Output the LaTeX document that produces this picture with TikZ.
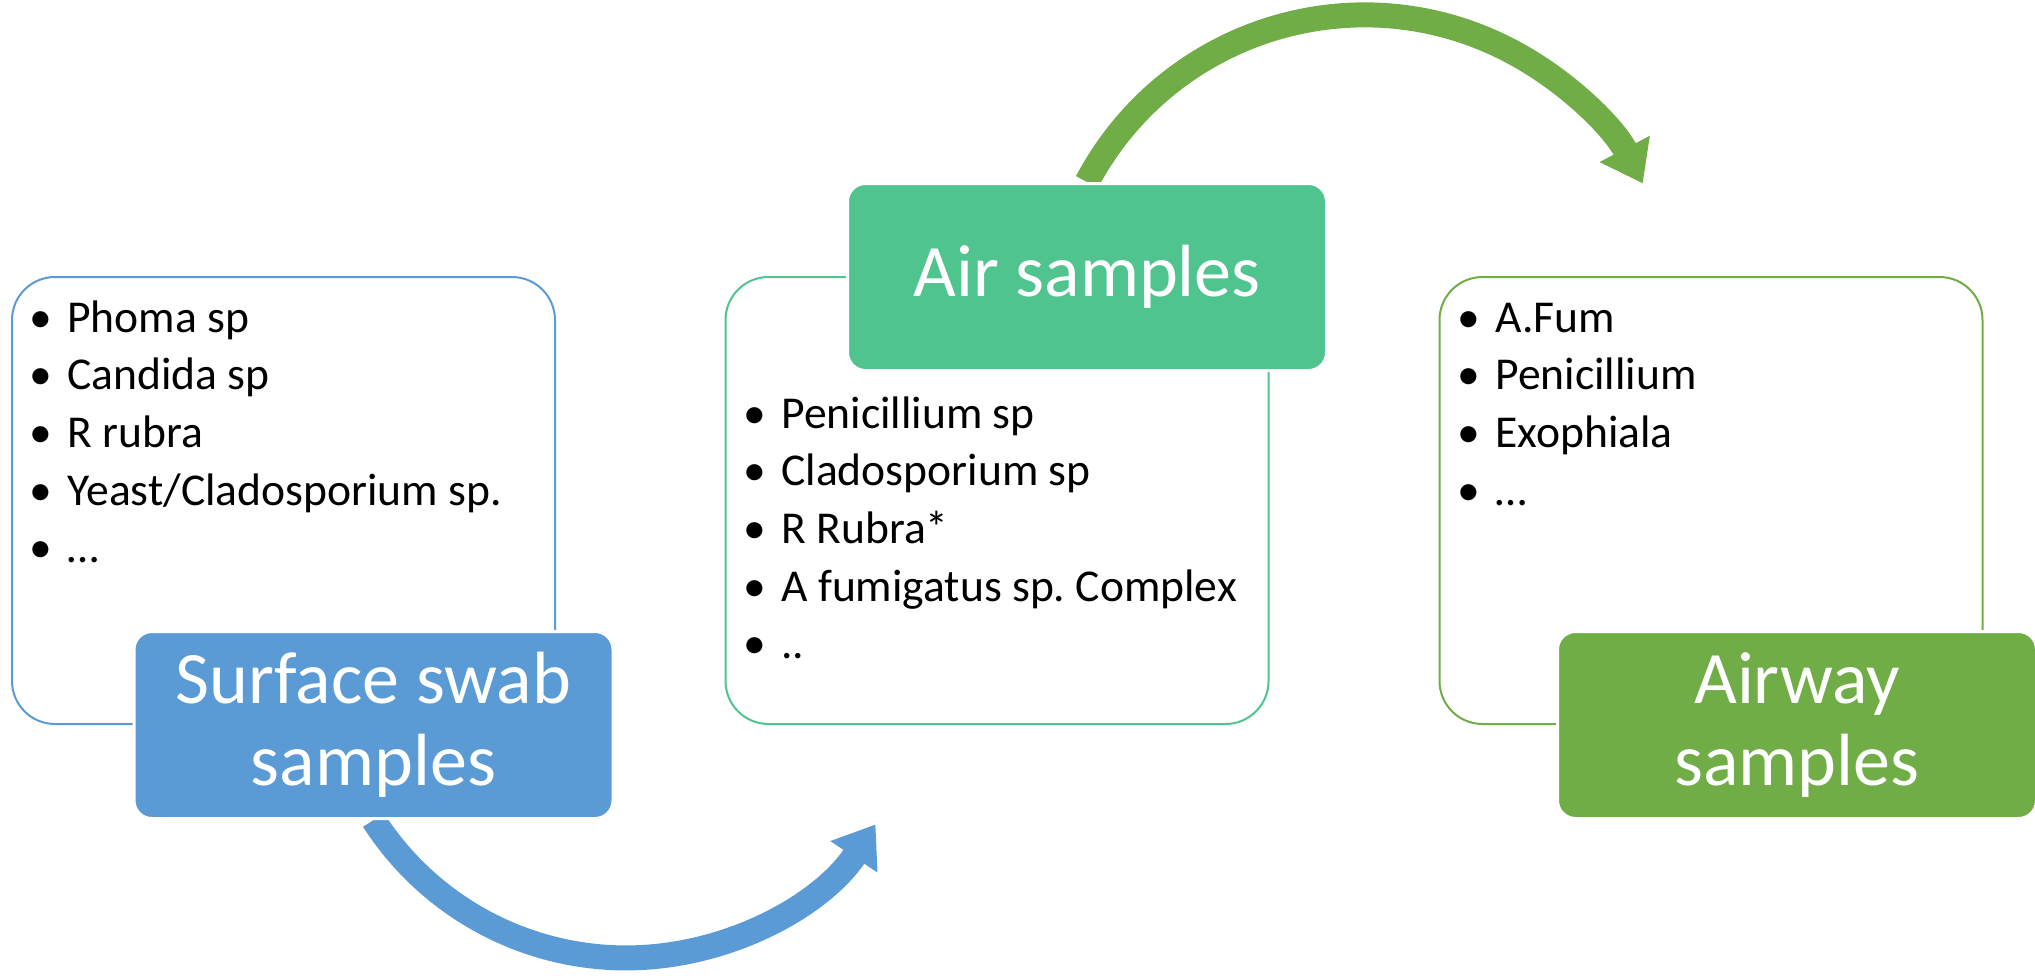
\documentclass[tikz,border=0pt]{standalone}
\usepackage{fontspec}
\setmainfont{Carlito}
\usepackage{tikz}
\usetikzlibrary{arrows.meta,backgrounds}

\definecolor{swabblue}{HTML}{5B9BD5}
\definecolor{airteal}{RGB}{80,196,142}
\definecolor{airwaygreen}{HTML}{70AD47}

\newcommand{\bul}{\llap{\makebox[27pt][c]{\textbullet}}}
\frenchspacing

\tikzset{
  listbox/.style={draw=#1, line width=1pt, fill=white, rounded corners=21.5pt,
    minimum width=271.5pt, minimum height=223.5pt, inner sep=0pt},
  titlebox/.style={fill=#1, draw=white, line width=1.5pt, rounded corners=9pt,
    minimum width=239.5pt, minimum height=93.5pt, inner sep=0pt, text=white,
    align=center, font=\fontsize{37}{41}\selectfont},
  listtext/.style={anchor=base west, inner sep=0pt, font=\fontsize{22.8}{28.85}\selectfont},
  bendarrow/.style={draw=#1, line width=12.5pt, -{Triangle[width=27pt,length=19.5pt]}},
}

\begin{document}
\begin{tikzpicture}[x=0.5pt,y=0.5pt,yscale=-1,xscale=1]
\useasboundingbox (0,0) rectangle (2035,975);

%Shape: Rounded Rect [list boxes]
\node[listbox=swabblue] (swablist) at (283.5,500.5) {};
\node[listbox=airteal] (airlist) at (997,500.5) {};
\node[listbox=airwaygreen] (airwaylist) at (1711,500.5) {};

%Shape: Rounded Rect [titles]
\node[titlebox=swabblue] (swab) at (373.5,725) {Surface swab\\samples};
\node[titlebox=airteal] (air) at (1087,277) {Air samples};
\node[titlebox=airwaygreen] (airway) at (1797,725) {Airway\\samples};

% Text Node
\foreach \txt [count=\i from 0] in {Phoma sp, Candida sp, R rubra, Yeast/Cladosporium sp., …}
  \node[listtext] (swab\i) at (67,{332+57.7*\i}) {\bul\txt};
% Text Node
\foreach \txt [count=\i from 0] in {Penicillium sp, Cladosporium sp, R Rubra*, A fumigatus sp. Complex, ..}
  \node[listtext] (air\i) at (781,{428+57.7*\i}) {\bul\txt};
% Text Node
\foreach \txt [count=\i from 0] in {A.Fum, Penicillium, Exophiala, …}
  \node[listtext] (airway\i) at (1495,{332+57.7*\i}) {\bul\txt};

%Curved Arrows
\begin{scope}[on background layer]
\draw[bendarrow=swabblue] (swab.south) arc[start angle=147.3, end angle=33.7, radius=300];
\draw[bendarrow=airwaygreen] (air.north) arc[start angle=-152.1, end angle=-27.6, radius=314];
\end{scope}
\end{tikzpicture}
\end{document}
